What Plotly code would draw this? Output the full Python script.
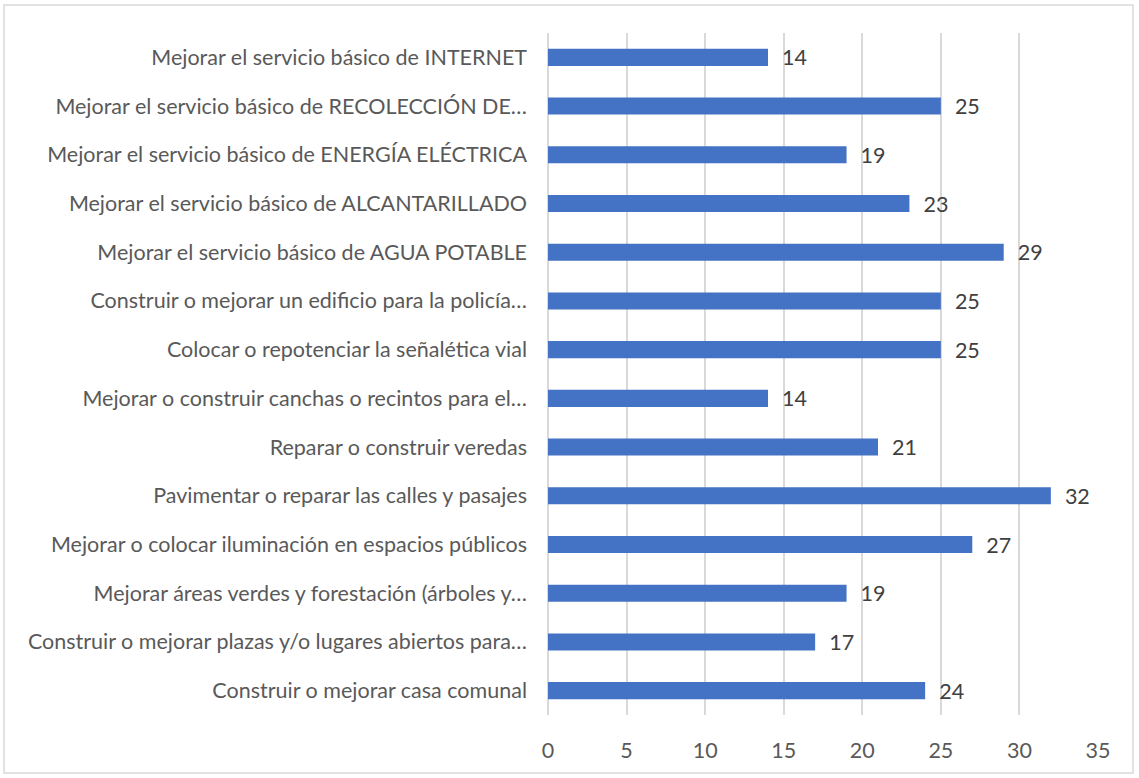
import plotly.graph_objects as go

categories = [
    "Mejorar el servicio básico de INTERNET",
    "Mejorar el servicio básico de RECOLECCIÓN DE…",
    "Mejorar el servicio básico de ENERGÍA ELÉCTRICA",
    "Mejorar el servicio básico de ALCANTARILLADO",
    "Mejorar el servicio básico de AGUA POTABLE",
    "Construir o mejorar un edificio para la policía…",
    "Colocar o repotenciar la señalética vial",
    "Mejorar o construir canchas o recintos para el…",
    "Reparar o construir veredas",
    "Pavimentar o reparar las calles y pasajes",
    "Mejorar o colocar iluminación en espacios públicos",
    "Mejorar áreas verdes y forestación (árboles y…",
    "Construir o mejorar plazas y/o lugares abiertos para…",
    "Construir o mejorar casa comunal",
]
values = [14, 25, 19, 23, 29, 25, 25, 14, 21, 32, 27, 19, 17, 24]
x_ticks = [0, 5, 10, 15, 20, 25, 30, 35]

FONT = "Lato"
FS = 21.5
W, H = 1139, 778
L, R, T, B = 548, 41, 33, 63
pw, ph = W - L - R, H - T - B

fig = go.Figure(go.Bar(
    x=values, y=categories, orientation="h",
    marker=dict(color="#4472C4", line=dict(width=0)),
    width=0.35,
    texttemplate="\u00a0\u00a0%{x}", textposition="outside", cliponaxis=False,
    constraintext="none",
    textfont=dict(family=FONT, size=FS, color="#404040"),
))

fig.update_layout(
    width=W, height=H,
    margin=dict(l=L, r=R, t=T, b=B),
    plot_bgcolor="white", paper_bgcolor="white",
    showlegend=False,
    font=dict(family=FONT, size=FS, color="#595959"),
    xaxis=dict(range=[0, 35], tickvals=x_ticks, showgrid=True, gridcolor="#D9D9D9",
               gridwidth=1.5, zeroline=True, zerolinecolor="#D9D9D9", zerolinewidth=1.5,
               showline=False, ticks="", ticklabelstandoff=20,
               tickfont=dict(family=FONT, size=FS, color="#595959")),
    yaxis=dict(autorange="reversed", showgrid=False, showline=False, ticks="",
               ticklabelstandoff=20, automargin=False,
               tickfont=dict(family=FONT, size=FS, color="#595959")),
    shapes=[dict(type="rect", xref="paper", yref="paper",
                 x0=(4 - L) / pw, x1=(1133 - L) / pw,
                 y0=(H - B - 773) / ph, y1=(H - B - 5) / ph,
                 line=dict(color="#D9D9D9", width=1.5), fillcolor="rgba(0,0,0,0)", layer="below")],
)

fig.write_html("out.html", config={"displayModeBar": False},
               post_script="document.body.style.margin='0';document.body.style.overflow='hidden';")
